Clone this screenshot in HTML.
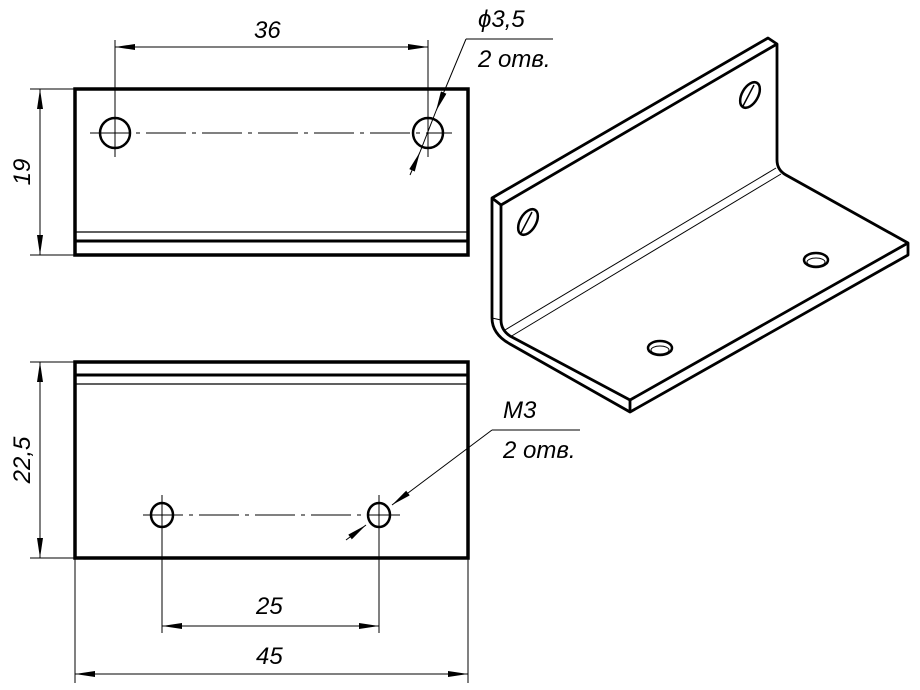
<!DOCTYPE html>
<html><head><meta charset="utf-8"><style>
html,body{margin:0;padding:0;background:#fff;}
svg{display:block}
text{font-family:"Liberation Sans",sans-serif;font-style:italic;font-size:24px;fill:#000;}
</style></head><body>
<svg width="920" height="690" viewBox="0 0 920 690" xmlns="http://www.w3.org/2000/svg">
<defs>
<marker id="a" viewBox="0 0 20 6" refX="20" refY="3" markerWidth="20" markerHeight="6" markerUnits="userSpaceOnUse" orient="auto-start-reverse"><path d="M0,0 L20,3 L0,6 Z" fill="#000"/></marker>
</defs>
<g fill="none" stroke="#000">
<rect x="75" y="89" width="393" height="166" stroke-width="3.5"/>
<line x1="75" y1="232" x2="468" y2="232" stroke-width="1.2"/>
<line x1="75" y1="241" x2="468" y2="241" stroke-width="3"/>
<circle cx="115" cy="133" r="15" stroke-width="2.5"/>
<circle cx="428" cy="133" r="15" stroke-width="2.5"/>
<line x1="90" y1="133" x2="452" y2="133" stroke-width="1" stroke-dasharray="40,6,4,6"/>
<line x1="115" y1="40" x2="115" y2="157" stroke-width="1"/>
<line x1="428" y1="40" x2="428" y2="157" stroke-width="1"/>
<line x1="115" y1="47" x2="428" y2="47" stroke-width="1" marker-start="url(#a)" marker-end="url(#a)"/>
<line x1="30" y1="89" x2="75" y2="89" stroke-width="1"/>
<line x1="30" y1="255" x2="75" y2="255" stroke-width="1"/>
<line x1="40" y1="89" x2="40" y2="255" stroke-width="1" marker-start="url(#a)" marker-end="url(#a)"/>
<line x1="466" y1="39" x2="436" y2="111" stroke-width="1" marker-end="url(#a)"/>
<line x1="466" y1="39" x2="553" y2="39" stroke-width="1"/>
<line x1="410" y1="175" x2="420" y2="152" stroke-width="1" marker-end="url(#a)"/>
<line x1="420" y1="152" x2="436" y2="111" stroke-width="1"/>
<rect x="75" y="362" width="393" height="196" stroke-width="3.5"/>
<line x1="75" y1="375" x2="468" y2="375" stroke-width="3"/>
<line x1="75" y1="384" x2="468" y2="384" stroke-width="1.2"/>
<ellipse cx="162" cy="515" rx="11" ry="12" stroke-width="2.5"/>
<ellipse cx="379" cy="515" rx="11" ry="12" stroke-width="2.5"/>
<line x1="143" y1="515" x2="400" y2="515" stroke-width="1" stroke-dasharray="40,6,4,6"/>
<line x1="162" y1="495" x2="162" y2="633" stroke-width="1"/>
<line x1="379" y1="495" x2="379" y2="633" stroke-width="1"/>
<line x1="162" y1="626" x2="379" y2="626" stroke-width="1" marker-start="url(#a)" marker-end="url(#a)"/>
<line x1="75" y1="558" x2="75" y2="683" stroke-width="1"/>
<line x1="468" y1="558" x2="468" y2="683" stroke-width="1"/>
<line x1="75" y1="674" x2="468" y2="674" stroke-width="1" marker-start="url(#a)" marker-end="url(#a)"/>
<line x1="30" y1="362" x2="75" y2="362" stroke-width="1"/>
<line x1="30" y1="558" x2="75" y2="558" stroke-width="1"/>
<line x1="40" y1="362" x2="40" y2="558" stroke-width="1" marker-start="url(#a)" marker-end="url(#a)"/>
<line x1="492" y1="430" x2="392" y2="505" stroke-width="1" marker-end="url(#a)"/>
<line x1="492" y1="430" x2="580" y2="430" stroke-width="1"/>
<line x1="346" y1="540" x2="366" y2="525" stroke-width="1" marker-end="url(#a)"/>
<g stroke-width="2.8" stroke-linejoin="round">
<path d="M492,198 L768,38 L777,44 L777,160 Q777,170 786,175 L908,243 L908,255 L630,412 L510,344 Q492,334 492,318 Z"/>
<path d="M492,198 L501,205 L777,44"/>
<path d="M501,205 L501,320 Q501,330 510,336 L630,400 L908,243"/>
<path d="M630,400 L630,412"/>
</g>
<line x1="505" y1="330" x2="776" y2="168" stroke-width="1"/>
<line x1="510" y1="337" x2="781" y2="174" stroke-width="1"/>
<line x1="492" y1="318" x2="501" y2="320" stroke-width="1"/>
<ellipse cx="750" cy="95" rx="8" ry="14" transform="rotate(30 750 95)" stroke-width="2.5"/>
<line x1="743" y1="106" x2="754" y2="85" stroke-width="1.5"/>
<ellipse cx="528" cy="222" rx="8" ry="14" transform="rotate(30 528 222)" stroke-width="2.5"/>
<line x1="521" y1="233" x2="532" y2="212" stroke-width="1.5"/>
<ellipse cx="816" cy="260" rx="12" ry="7" stroke-width="2.5"/>
<ellipse cx="816" cy="262" rx="9" ry="4" stroke-width="1"/>
<ellipse cx="660" cy="348" rx="12" ry="7" stroke-width="2.5"/>
<ellipse cx="660" cy="350" rx="9" ry="4" stroke-width="1"/>
</g>
<text x="254" y="38">36</text>
<text x="478" y="27">ϕ3,5</text>
<text x="478" y="67">2 отв.</text>
<text transform="translate(30,172) rotate(-90)" text-anchor="middle">19</text>
<text transform="translate(30,460) rotate(-90)" text-anchor="middle">22,5</text>
<text x="256" y="614">25</text>
<text x="256" y="664">45</text>
<text x="503" y="418">М3</text>
<text x="503" y="458">2 отв.</text>
</svg>
</body></html>
